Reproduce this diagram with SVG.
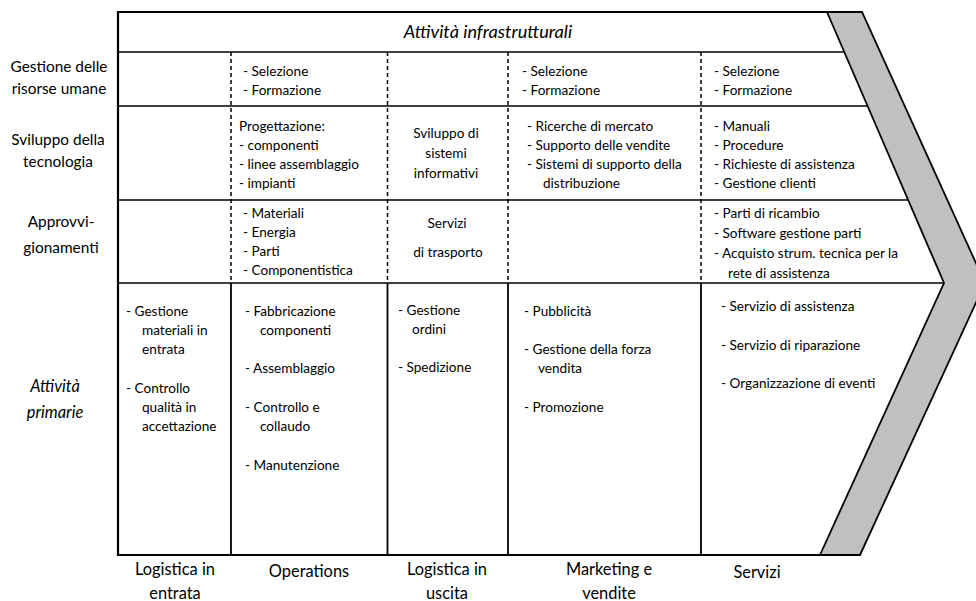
<svg xmlns="http://www.w3.org/2000/svg" width="976" height="601" viewBox="0 0 976 601">
  <style>
    text { font-family: Lato, "Open Sans", sans-serif; fill: #000; }
    .cell { font-size: 13.6px; }
    .side { font-size: 15.4px; text-anchor: middle; }
    .foot { font-size: 16.4px; text-anchor: middle; }
    .ital { font-style: italic; }
    .mid { text-anchor: middle; }
    .frame { fill: none; stroke: #000; stroke-width: 2.2; }
    .row { stroke: #000; stroke-width: 1.6; }
    .sep { stroke: #000; stroke-width: 1.8; }
    .dash { stroke: #000; stroke-width: 1.5; stroke-dasharray: 4 3; }
    .band { fill: #c0c0c0; stroke: #000; stroke-width: 1.8; stroke-linejoin: miter; }
  </style>

  <rect width="976" height="601" fill="#fff"/>

  <!-- grid: frame, row separators and column separators -->
  <g id="grid">
    <polyline class="frame" points="862,12 118,12 118,555 860,555"/>
    <line class="row" x1="118" y1="52" x2="845" y2="52"/>
    <line class="row" x1="118" y1="106" x2="868" y2="106"/>
    <line class="row" x1="118" y1="200" x2="909" y2="200"/>
    <line class="row" x1="118" y1="283" x2="944" y2="283"/>
    <!-- support activities: dashed separators -->
    <line class="dash" x1="231" y1="52" x2="231" y2="283"/>
    <line class="dash" x1="387.5" y1="52" x2="387.5" y2="283"/>
    <line class="dash" x1="508" y1="52" x2="508" y2="283"/>
    <line class="dash" x1="701" y1="52" x2="701" y2="283"/>
    <!-- primary activities: solid separators -->
    <line class="sep" x1="231" y1="283" x2="231" y2="555"/>
    <line class="sep" x1="387.5" y1="283" x2="387.5" y2="555"/>
    <line class="sep" x1="508" y1="283" x2="508" y2="555"/>
    <line class="sep" x1="701" y1="283" x2="701" y2="555"/>
  </g>

  <!-- margin chevron -->
  <g id="margin">
    <polygon class="band" points="827,12 862,12 985,283 860,555 820,555 944,283"/>
  </g>

  <!-- infrastructure header -->
  <g id="infrastruttura">
    <text class="ital mid" x="488" y="38" style="font-size:18.2px">Attività infrastrutturali</text>
  </g>

  <!-- row labels -->
  <g id="label-risorse-umane">
    <text class="side" x="59" y="72">Gestione delle</text>
    <text class="side" x="59" y="94">risorse umane</text>
  </g>
  <g id="label-tecnologia">
    <text class="side" x="58" y="145">Sviluppo della</text>
    <text class="side" x="58" y="167">tecnologia</text>
  </g>
  <g id="label-approvvigionamenti">
    <text class="side" x="61" y="227">Approvvi-</text>
    <text class="side" x="61" y="253">gionamenti</text>
  </g>
  <g id="label-primarie">
    <text class="side ital" x="55" y="392" style="font-size:16.4px">Attività</text>
    <text class="side ital" x="55" y="418" style="font-size:16.4px">primarie</text>
  </g>

  <!-- column labels -->
  <g id="col-logistica-entrata">
    <text class="foot" x="175" y="575">Logistica in</text>
    <text class="foot" x="175" y="599">entrata</text>
  </g>
  <g id="col-operations">
    <text class="foot" x="309" y="577">Operations</text>
  </g>
  <g id="col-logistica-uscita">
    <text class="foot" x="447" y="575">Logistica in</text>
    <text class="foot" x="447" y="599">uscita</text>
  </g>
  <g id="col-marketing">
    <text class="foot" x="609" y="575">Marketing e</text>
    <text class="foot" x="609" y="599">vendite</text>
  </g>
  <g id="col-servizi">
    <text class="foot" x="757" y="578">Servizi</text>
  </g>

  <!-- human resources row -->
  <g id="hr-operations">
    <text class="cell" x="243" y="76">- Selezione</text>
    <text class="cell" x="243" y="95">- Formazione</text>
  </g>
  <g id="hr-marketing">
    <text class="cell" x="522" y="76">- Selezione</text>
    <text class="cell" x="522" y="95">- Formazione</text>
  </g>
  <g id="hr-servizi">
    <text class="cell" x="714" y="76">- Selezione</text>
    <text class="cell" x="714" y="95">- Formazione</text>
  </g>

  <!-- technology row -->
  <g id="tech-operations">
    <text class="cell" x="239" y="131">Progettazione:</text>
    <text class="cell" x="239" y="150">- componenti</text>
    <text class="cell" x="239" y="169">- linee assemblaggio</text>
    <text class="cell" x="239" y="188">- impianti</text>
  </g>
  <g id="tech-logistica-uscita">
    <text class="cell mid" x="446" y="138">Sviluppo di</text>
    <text class="cell mid" x="446" y="158">sistemi</text>
    <text class="cell mid" x="446" y="178">informativi</text>
  </g>
  <g id="tech-marketing">
    <text class="cell" x="527" y="131">- Ricerche di mercato</text>
    <text class="cell" x="527" y="150">- Supporto delle vendite</text>
    <text class="cell" x="527" y="169">- Sistemi di supporto della</text>
    <text class="cell" x="543" y="188">distribuzione</text>
  </g>
  <g id="tech-servizi">
    <text class="cell" x="714" y="131">- Manuali</text>
    <text class="cell" x="714" y="150">- Procedure</text>
    <text class="cell" x="714" y="169">- Richieste di assistenza</text>
    <text class="cell" x="714" y="188">- Gestione clienti</text>
  </g>

  <!-- procurement row -->
  <g id="proc-operations">
    <text class="cell" x="243" y="218">- Materiali</text>
    <text class="cell" x="243" y="237">- Energia</text>
    <text class="cell" x="243" y="256">- Parti</text>
    <text class="cell" x="243" y="275">- Componentistica</text>
  </g>
  <g id="proc-logistica-uscita">
    <text class="cell mid" x="447" y="228">Servizi</text>
    <text class="cell mid" x="448" y="257">di trasporto</text>
  </g>
  <g id="proc-servizi">
    <text class="cell" x="714" y="218">- Parti di ricambio</text>
    <text class="cell" x="714" y="238">- Software gestione parti</text>
    <text class="cell" x="714" y="258">- Acquisto strum. tecnica per la</text>
    <text class="cell" x="728" y="278">rete di assistenza</text>
  </g>

  <!-- primary activities -->
  <g id="prim-logistica-entrata">
    <text class="cell" x="126" y="316">- Gestione</text>
    <text class="cell" x="142" y="335">materiali in</text>
    <text class="cell" x="142" y="354">entrata</text>
    <text class="cell" x="126" y="393">- Controllo</text>
    <text class="cell" x="142" y="412">qualità in</text>
    <text class="cell" x="142" y="431">accettazione</text>
  </g>
  <g id="prim-operations">
    <text class="cell" x="245" y="316">- Fabbricazione</text>
    <text class="cell" x="260" y="335">componenti</text>
    <text class="cell" x="245" y="373">- Assemblaggio</text>
    <text class="cell" x="245" y="412">- Controllo e</text>
    <text class="cell" x="260" y="431">collaudo</text>
    <text class="cell" x="245" y="470">- Manutenzione</text>
  </g>
  <g id="prim-logistica-uscita">
    <text class="cell" x="398" y="315">- Gestione</text>
    <text class="cell" x="412" y="334">ordini</text>
    <text class="cell" x="398" y="372">- Spedizione</text>
  </g>
  <g id="prim-marketing">
    <text class="cell" x="524" y="316">- Pubblicità</text>
    <text class="cell" x="524" y="354">- Gestione della forza</text>
    <text class="cell" x="538" y="373">vendita</text>
    <text class="cell" x="524" y="412">- Promozione</text>
  </g>
  <g id="prim-servizi">
    <text class="cell" x="721" y="311">- Servizio di assistenza</text>
    <text class="cell" x="721" y="350">- Servizio di riparazione</text>
    <text class="cell" x="721" y="388">- Organizzazione di eventi</text>
  </g>
</svg>
